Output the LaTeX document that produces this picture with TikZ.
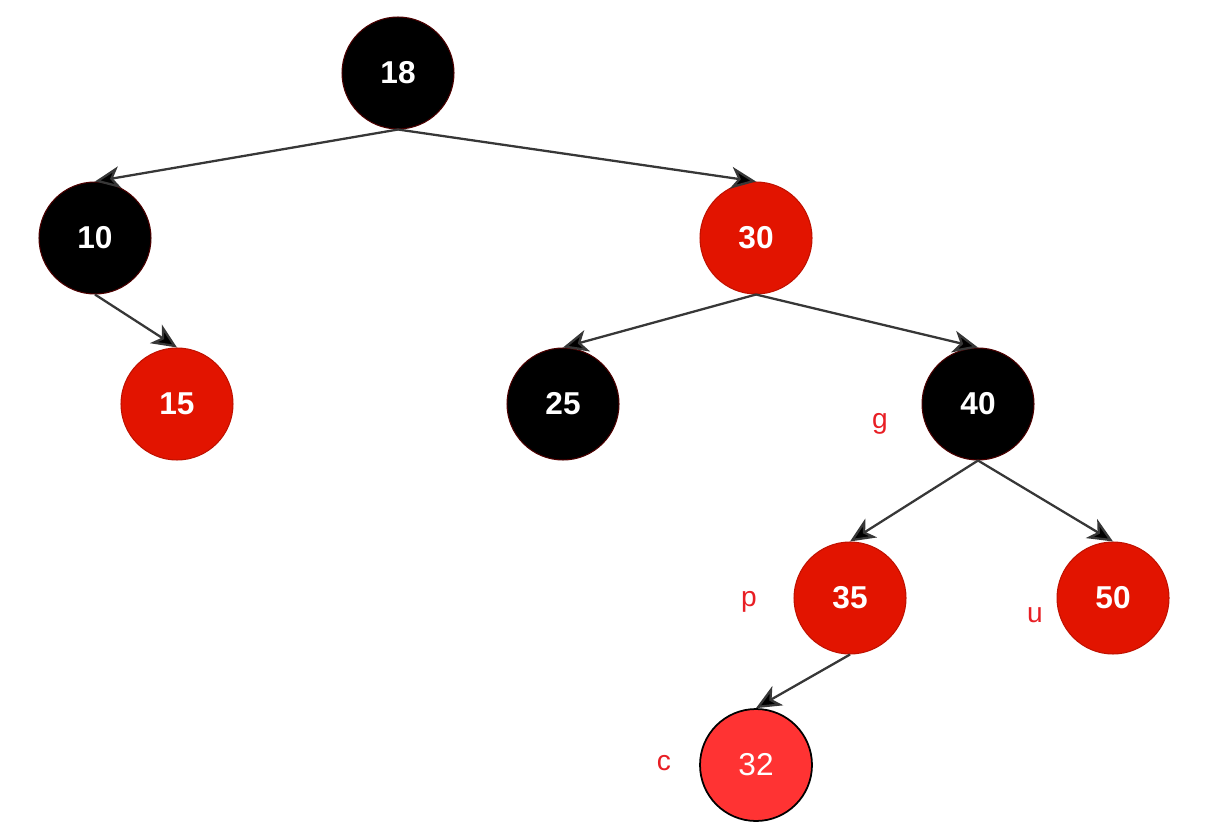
\documentclass[tikz,border=0pt]{standalone}
\usepackage{fontspec}
\setmainfont{Liberation Sans}
\usetikzlibrary{arrows.meta,positioning}
\definecolor{TreeRed}{RGB}{226,20,0}
\definecolor{NewRed}{RGB}{255,51,51}
\definecolor{TagRed}{RGB}{232,30,36}
\definecolor{EdgeGray}{RGB}{55,55,55}
\tikzset{
  blacknode/.style={circle,draw=black!70!red,fill=black,line width=0.6pt,
    minimum size=2.24cm,inner sep=0pt,text=white,font=\fontsize{18}{20}\selectfont\bfseries},
  rednode/.style={circle,draw=TreeRed!85!black,fill=TreeRed,line width=0.6pt,
    minimum size=2.24cm,inner sep=0pt,text=white,font=\fontsize{18}{20}\selectfont\bfseries},
  newnode/.style={circle,draw=black,fill=NewRed,line width=1pt,
    minimum size=2.24cm,inner sep=0pt,text=white,font=\fontsize{18}{20}\selectfont},
  tag/.style={text=TagRed,font=\fontsize{16}{18}\selectfont},
  edge/.style={-{Stealth[length=0.5cm,width=0.44cm,inset=0.14cm,fill=black]},
    line width=1.3pt,EdgeGray}
}

\begin{document}
\begin{tikzpicture}[x=0.02cm,y=-0.02cm]
\useasboundingbox (0,0) rectangle (1229,837);

\node[blacknode] (n18) at (398,73) {18};
\node[blacknode] (n10) at (95,238) {10};
\node[rednode] (n30) at (756,238) {30};
\node[rednode] (n15) at (177,404) {15};
\node[blacknode] (n25) at (563,404) {25};
\node[blacknode] (n40) at (978,404) {40};
\node[rednode] (n35) at (850,598) {35};
\node[rednode] (n50) at (1113,598) {50};
\node[newnode] (n32) at (756,765) {32};

\node[tag] (g) at (880,424) {g};
\node[tag] (p) at (749,602) {p};
\node[tag] (u) at (1035,615) {u};
\node[tag] (c) at (664,763) {c};

\draw[edge] (n18.south) -- (n10.north);
\draw[edge] (n18.south) -- (n30.north);
\draw[edge] (n10.south) -- (n15.north);
\draw[edge] (n30.south) -- (n25.north);
\draw[edge] (n30.south) -- (n40.north);
\draw[edge] (n40.south) -- (n35.north);
\draw[edge] (n40.south) -- (n50.north);
\draw[edge] (n35.south) -- (n32.north);

\end{tikzpicture}
\end{document}
